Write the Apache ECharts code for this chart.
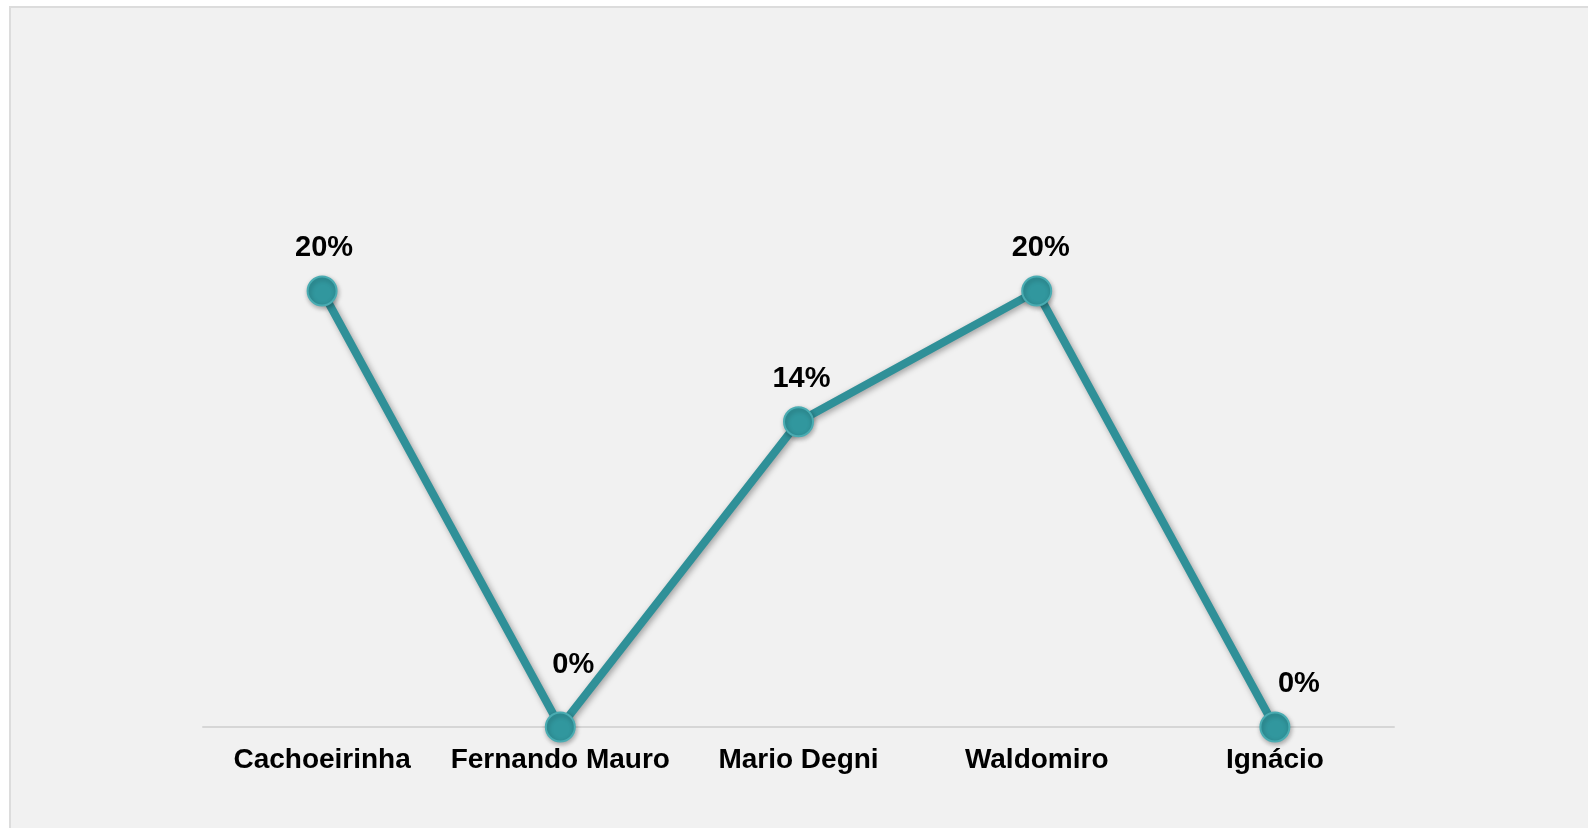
<!DOCTYPE html>
<html>
<head>
<meta charset="utf-8">
<script src="https://cdn.jsdelivr.net/npm/echarts@6/dist/echarts.min.js"></script>
<style>
  html, body { margin: 0; padding: 0; background: #ffffff; }
  #panel {
    position: absolute; left: 9px; top: 6px; width: 1600px; height: 840px;
    background: #f1f1f1; border-top: 2px solid #dcdcdc; border-left: 2px solid #dcdcdc;
  }
  #chart { position: absolute; left: 0; top: 0; width: 1588px; height: 828px; }
</style>
</head>
<body>
<div id="panel"></div>
<div id="chart"></div>
<script>
const categories = ['Cachoeirinha', 'Fernando Mauro', 'Mario Degni', 'Waldomiro', 'Ignácio']
const values = [0.20, 0, 0.14, 0.20, 0]
// label nudges as placed in the original
const labelOffsets = [[2, 0], [13, -19], [3, 0], [4, 0], [24, 0]]

const myChart = echarts.init(document.getElementById('chart'))

const option = {
    backgroundColor: 'transparent',
    grid: {
        left: 203,
        right: 194,
        top: 291,
        bottom: 101
    },
    xAxis: {
        type: 'category',
        data: categories,
        boundaryGap: true,
        axisLine: { lineStyle: { color: '#d6d6d6', width: 2 } },
        axisTick: { show: false },
        axisLabel: {
            interval: 0,
            color: '#000',
            fontFamily: 'Liberation Sans, Arial, sans-serif',
            fontWeight: 'bold',
            fontSize: 28,
            margin: 19
        }
    },
    yAxis: {
        type: 'value',
        min: 0,
        max: 0.2,
        show: false
    },
    series: [{
        type: 'line',
        data: values.map((v, i) => ({
            value: v,
            label: { offset: labelOffsets[i] }
        })),
        symbol: 'circle',
        symbolSize: 29,
        lineStyle: {
            color: '#2f9098',
            width: 8,
            shadowColor: 'rgba(0,0,0,0.35)',
            shadowBlur: 6,
            shadowOffsetX: 2,
            shadowOffsetY: 2
        },
        itemStyle: {
            color: '#31979e',
            borderColor: '#4aacb2',
            borderWidth: 2,
            shadowColor: 'rgba(0,0,0,0.3)',
            shadowBlur: 5,
            shadowOffsetX: 1,
            shadowOffsetY: 2
        },
        label: {
            show: true,
            position: 'top',
            distance: 13,
            color: '#000',
            fontFamily: 'Liberation Sans, Arial, sans-serif',
            fontWeight: 'bold',
            fontSize: 29,
            formatter: p => Math.round(p.value * 100) + '%'
        },
        z: 3
    }],
    animation: false
}

myChart.setOption(option)
</script>
</body>
</html>
